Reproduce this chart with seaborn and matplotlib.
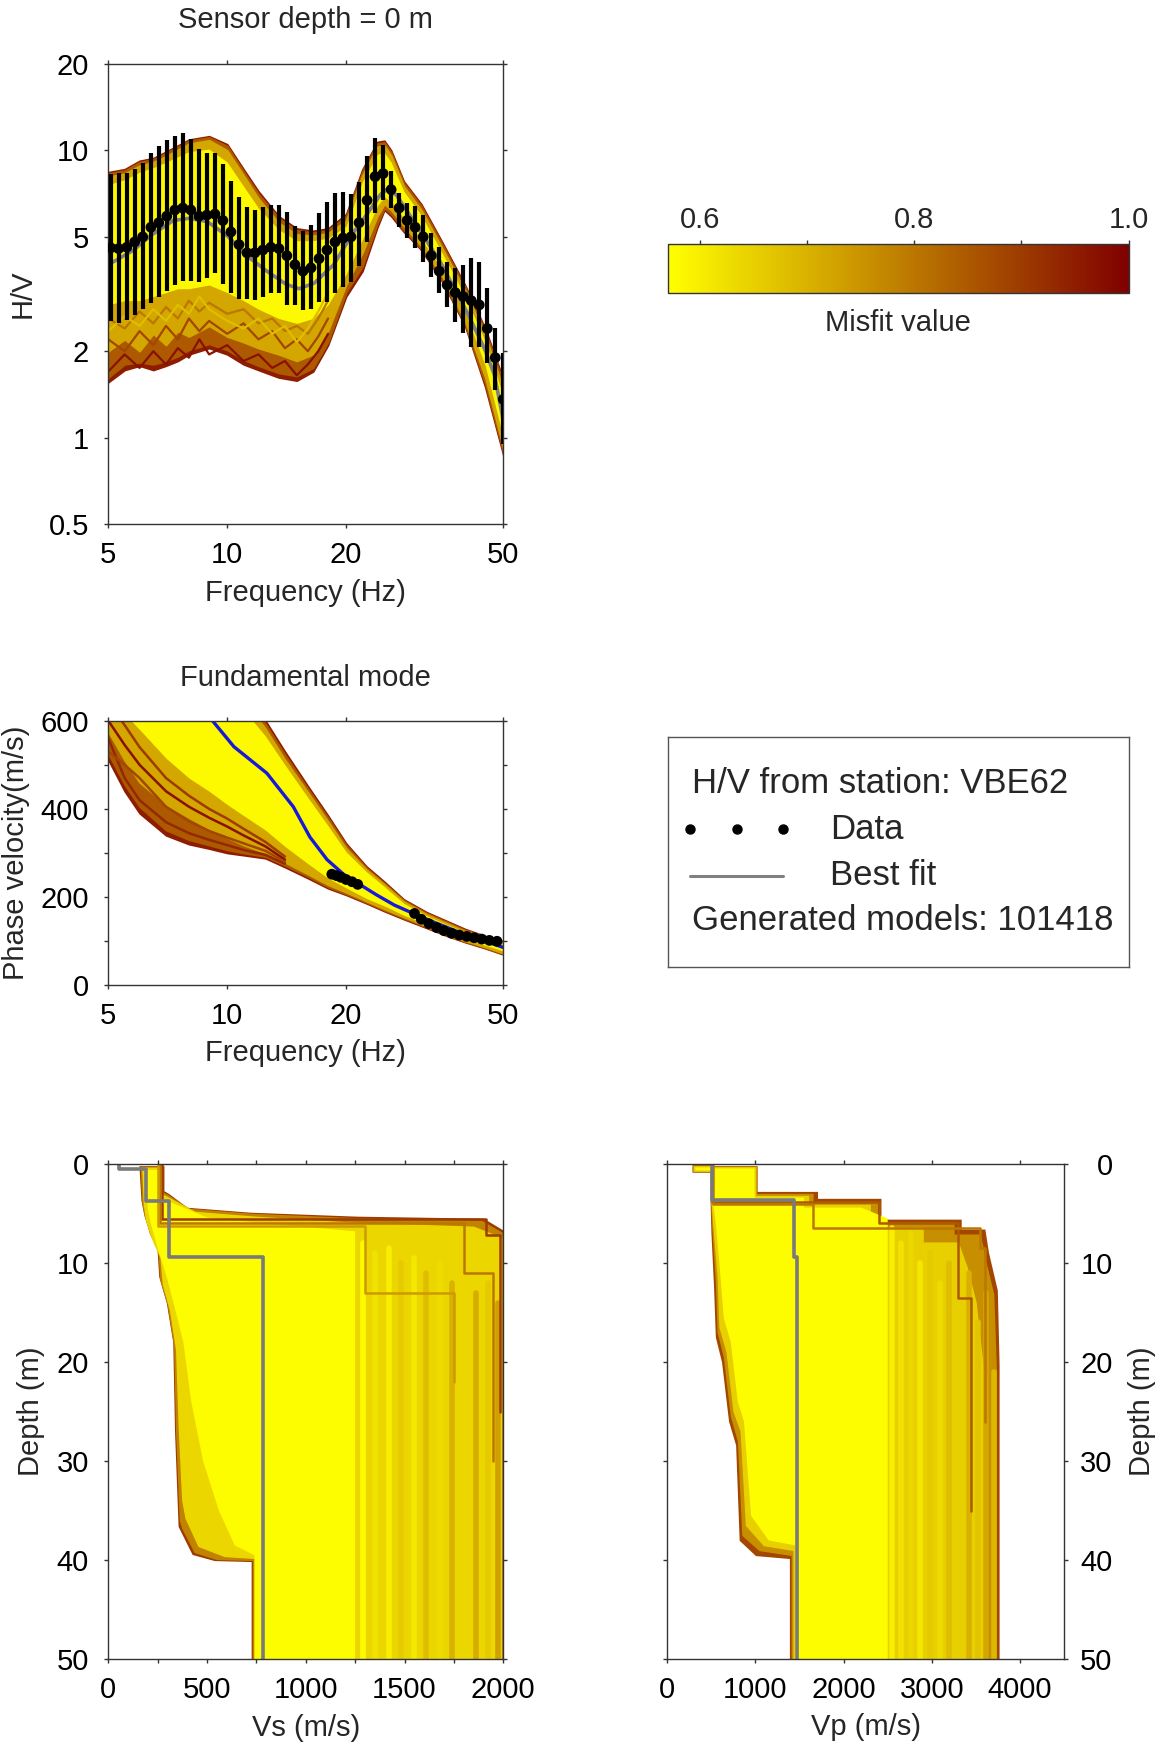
import matplotlib
matplotlib.use("Agg")
import matplotlib.pyplot as plt
import seaborn as sns
from matplotlib.colors import LinearSegmentedColormap, Normalize
from matplotlib.cm import ScalarMappable
from matplotlib.ticker import FixedLocator, NullLocator

# ===================== DATA =====================
# ---- H/V data (station VBE62) ----
hv_freq = [5.07, 5.31, 5.57, 5.83, 6.11, 6.41, 6.71, 7.03, 7.37, 7.72,
           8.09, 8.48, 8.88, 9.31, 9.75, 10.22, 10.71, 11.22, 11.75, 12.31,
           12.90, 13.52, 14.16, 14.84, 15.55, 16.30, 17.08, 17.89, 18.75, 19.64,
           20.58, 21.57, 22.60, 23.68, 24.81, 26.00, 27.24, 28.54, 29.91, 31.34,
           32.84, 34.41, 36.05, 37.78, 39.58, 41.48, 43.46, 45.54, 47.72, 50.0]
hv_data = [4.58, 4.55, 4.6, 4.8, 5.0, 5.4, 5.6, 5.9, 6.2, 6.3,
           6.2, 5.9, 5.95, 6.0, 5.7, 5.2, 4.7, 4.4, 4.4, 4.5,
           4.6, 4.55, 4.3, 4.0, 3.8, 3.9, 4.2, 4.5, 4.8, 4.95,
           5.0, 5.6, 6.7, 8.1, 8.3, 7.3, 6.3, 5.7, 5.4, 5.0,
           4.3, 3.8, 3.4, 3.2, 3.1, 3.0, 2.9, 2.4, 1.9, 1.36]
hv_hi = [8.3, 8.32, 8.32, 8.59, 9.01, 9.76, 10.38, 10.86, 11.22, 11.52,
         10.92, 10.08, 9.81, 9.81, 8.96, 7.84, 6.89, 6.33, 6.20, 6.33,
         6.45, 6.45, 6.09, 5.45, 5.25, 5.50, 6.04, 6.62, 7.08, 7.18,
         7.03, 7.78, 9.55, 11.01, 10.44, 8.49, 7.08, 6.57, 6.40, 5.96,
         5.17, 4.62, 4.08, 3.90, 3.99, 4.21, 4.10, 3.31, 2.40, 1.97]
hv_lo = [2.54, 2.51, 2.57, 2.67, 2.80, 2.94, 3.08, 3.24, 3.40, 3.52,
         3.51, 3.49, 3.60, 3.75, 3.42, 3.18, 3.03, 3.03, 3.01, 3.10,
         3.18, 3.20, 2.90, 2.90, 2.78, 2.80, 2.97, 2.97, 3.18, 3.35,
         3.49, 3.96, 4.81, 6.04, 6.71, 6.31, 5.42, 4.94, 4.56, 4.10,
         3.63, 3.20, 2.86, 2.53, 2.31, 2.07, 2.07, 1.82, 1.47, 0.95]

# ---- H/V model ensemble: nested bands (outer = high misfit) ----
hv_ens_freq = [5, 5.5, 6, 6.5, 7, 7.5, 8, 9, 10, 11, 12, 13.5, 15, 16.5, 18,
               20, 22, 24, 25, 26, 28, 31, 35, 40, 45, 50]
hv_band_misfit = [0.95, 0.85, 0.72, 0.58]
hv_up_A = [8.4, 8.6, 9.2, 9.4, 9.9, 10.4, 10.9, 11.2, 10.5, 8.6, 7.2, 5.9, 5.35, 5.25, 5.35,
           6.0, 8.6, 10.7, 10.8, 10.0, 7.8, 6.5, 4.8, 3.4, 2.4, 1.6]
hv_lo_A = [1.56, 1.72, 1.78, 1.72, 1.78, 1.85, 1.95, 2.05, 1.95, 1.8, 1.72, 1.62, 1.58, 1.7, 2.1,
           3.1, 3.8, 5.4, 6.2, 5.9, 5.2, 4.5, 3.5, 2.45, 1.5, 0.87]
hv_up_B = [8.3, 8.5, 9.1, 9.3, 9.8, 10.3, 10.8, 11.1, 10.35, 8.45, 7.05, 5.8, 5.27, 5.17, 5.27,
           5.9, 8.45, 10.55, 10.65, 9.85, 7.7, 6.4, 4.72, 3.35, 2.36, 1.56]
hv_lo_B = [1.62, 1.8, 1.83, 1.8, 1.85, 1.92, 2.02, 2.12, 2.02, 1.87, 1.78, 1.68, 1.64, 1.75, 2.15,
           3.2, 3.95, 5.55, 6.3, 6.0, 5.28, 4.55, 3.55, 2.48, 1.54, 0.89]
hv_up_C = [8.1, 8.3, 8.85, 9.1, 9.55, 10.05, 10.55, 10.85, 10.0, 8.2, 6.8, 5.6, 5.1, 5.05, 5.15,
           5.7, 8.2, 10.3, 10.4, 9.6, 7.5, 6.2, 4.58, 3.25, 2.28, 1.48]
hv_lo_C = [2.0, 2.2, 2.0, 2.3, 2.1, 2.35, 2.25, 2.45, 2.25, 2.15, 2.05, 1.95, 1.85, 1.95, 2.35,
           3.4, 4.4, 5.9, 6.5, 6.2, 5.45, 4.65, 3.65, 2.55, 1.62, 0.92]
hv_up_D = [7.6, 7.9, 8.4, 8.7, 9.1, 9.5, 9.9, 10.1, 9.1, 7.5, 6.3, 5.3, 4.85, 4.85, 4.95,
           5.45, 7.8, 9.7, 9.8, 9.1, 7.2, 5.95, 4.4, 3.12, 2.17, 1.4]
hv_lo_D = [2.9, 3.0, 3.0, 3.1, 3.2, 3.3, 3.3, 3.4, 3.2, 3.0, 2.8, 2.6, 2.5, 2.6, 2.9,
           3.7, 4.9, 6.4, 6.9, 6.6, 5.8, 4.9, 3.85, 2.75, 1.78, 1.0]
# individual jagged high-misfit H/V curves
hv_jag_freq = [5, 5.5, 6, 6.5, 7, 7.5, 8, 8.5, 9, 10, 11, 12, 13, 14, 15, 16, 17, 18]
hv_jag_misfit = [0.97, 0.88, 0.8, 0.68]
hv_jag1 = [1.7, 1.95, 1.75, 2.0, 1.8, 2.05, 1.9, 2.2, 1.95, 2.1, 1.85, 1.95, 1.75, 1.85, 1.65, 1.8, 2.0, 2.3]
hv_jag2 = [2.2, 2.0, 2.35, 2.1, 2.45, 2.2, 2.6, 2.35, 2.55, 2.3, 2.5, 2.2, 2.35, 2.05, 2.2, 2.0, 2.25, 2.6]
hv_jag3 = [2.6, 2.4, 2.75, 2.5, 2.85, 2.6, 3.0, 2.75, 2.95, 2.7, 2.8, 2.5, 2.6, 2.35, 2.45, 2.3, 2.6, 3.0]
hv_jag4 = [2.35, 2.65, 2.45, 2.8, 2.55, 2.9, 2.7, 3.1, 2.8, 2.55, 2.4, 2.6, 2.3, 2.45, 2.15, 2.4, 2.75, 3.2]
# best-fit H/V
hv_best_freq = [5, 5.8, 6.4, 7.3, 8.0, 8.9, 10.0, 11.2, 12.6, 14.1, 15.2, 16.6, 18.6, 20.8,
                22.6, 24.4, 25.3, 26.8, 30.1, 34.6, 40.4, 45.1, 47.5, 50]
hv_best = [4.0, 4.5, 5.05, 5.7, 5.8, 5.65, 5.05, 4.3, 3.8, 3.42, 3.3, 3.45, 4.0, 5.15,
           6.0, 7.0, 7.3, 7.0, 5.5, 4.1, 2.75, 2.0, 1.65, 1.15]

# ---- Dispersion (fundamental mode) ----
disp_data_f = [18.4, 18.9, 19.4, 20.0, 20.7, 21.4, 29.8, 31.0, 32.4, 33.9, 35.4, 37.0,
               38.7, 40.4, 42.2, 44.1, 46.1, 48.2]
disp_data_v = [252, 249, 245, 240, 235, 229, 163, 150, 140, 131, 124, 118,
               114, 111, 108, 105, 102, 100]
disp_data_err = [9, 9, 9, 9, 9, 9, 6, 6, 6, 5, 5, 5, 5, 5, 5, 5, 5, 5]
disp_best_f = [8.7, 10.4, 12.6, 14.7, 16.2, 17.9, 19.7, 22.0, 23.9, 26.5, 29.6, 33.0,
               36.6, 40.3, 45.0, 50]
disp_best_v = [625, 541, 481, 405, 336, 285, 252, 225, 205, 182, 163, 145,
               129, 114, 100, 86]
disp_ens_f = [5, 5.5, 6, 7, 8, 9, 10, 11, 12.5, 14, 16, 18, 20, 22.5, 25, 28, 32, 36, 40, 45, 50]
disp_band_misfit = [0.95, 0.85, 0.72, 0.58]
disp_up_A = [700, 700, 700, 700, 700, 700, 700, 680, 600, 530, 452, 385, 322, 270, 235, 195, 166, 146, 128, 112, 100]
disp_lo_A = [511, 440, 390, 340, 320, 310, 300, 295, 288, 268, 243, 220, 205, 186, 168, 150, 130, 112, 98, 84, 70]
disp_up_B = [700, 700, 700, 700, 700, 700, 700, 670, 593, 523, 446, 380, 318, 267, 232, 193, 164, 144, 126, 111, 99]
disp_lo_B = [525, 455, 405, 352, 330, 318, 307, 300, 292, 272, 247, 223, 207, 188, 170, 152, 132, 113, 99, 85, 71]
disp_up_C = [700, 700, 700, 700, 700, 700, 700, 650, 582, 512, 438, 372, 311, 263, 229, 190, 161, 141, 123, 108, 96]
disp_lo_C = [575, 510, 460, 410, 380, 355, 335, 318, 300, 279, 252, 228, 211, 191, 173, 155, 134, 115, 101, 87, 73]
disp_up_D = [700, 700, 700, 700, 700, 700, 680, 625, 565, 500, 426, 362, 303, 258, 224, 186, 158, 138, 121, 106, 93]
disp_lo_D = [650, 615, 580, 515, 470, 440, 410, 385, 352, 315, 276, 243, 221, 197, 180, 159, 139, 120, 106, 91, 78]
disp_out_f = [5, 5.5, 6, 7, 8, 9, 10, 11, 12.5, 14]
disp_out_misfit = [0.97, 0.93, 0.9, 0.88]
disp_out1 = [600, 545, 500, 440, 405, 380, 360, 340, 315, 285]
disp_out2 = [560, 470, 420, 370, 345, 330, 318, 307, 296, 276]
disp_out3 = [640, 590, 540, 470, 430, 400, 378, 355, 325, 292]
disp_out4 = [530, 500, 470, 405, 372, 350, 335, 322, 305, 280]

# ---- Vs profiles ----
vs_band_misfit = [0.9, 0.78, 0.64, 0.575]
vs_A_v = [162, 280, 280, 306, 400, 720, 1260, 1900, 2000, 2000, 730, 730, 540, 430, 370, 360, 342, 333, 300, 262, 252, 215, 185, 172, 162]
vs_A_d = [0.3, 0.3, 2.8, 3.1, 4.5, 5.0, 5.4, 5.6, 6.8, 50, 50, 40.1, 40.0, 39.4, 37, 36.6, 27, 18, 14, 11.4, 8.2, 7, 5, 3.7, 0.3]
vs_B_v = [168, 274, 274, 302, 410, 730, 1255, 1890, 1993, 1993, 736, 736, 550, 440, 378, 366, 347, 337, 305, 267, 257, 220, 188, 176, 168]
vs_B_d = [0.35, 0.35, 2.9, 3.2, 4.6, 5.1, 5.55, 5.8, 7.0, 50, 50, 40.0, 39.9, 39.2, 36.8, 36.0, 27, 18.3, 14.3, 11.7, 8.6, 7.3, 5.3, 3.9, 0.35]
vs_C_v = [176, 268, 268, 300, 440, 750, 1240, 1850, 1990, 1990, 745, 745, 590, 460, 395, 378, 360, 347, 316, 280, 268, 230, 196, 184, 176]
vs_C_d = [0.45, 0.45, 3.1, 3.4, 4.9, 5.4, 6.0, 6.4, 7.5, 50, 50, 39.8, 39.6, 38.6, 35.8, 34, 26.5, 18.8, 14.8, 12.2, 9.5, 7.8, 5.8, 4.2, 0.45]
vs_D_v = [190, 260, 260, 320, 500, 800, 1250, 1250, 740, 740, 640, 560, 480, 420, 380, 330, 290, 250, 215, 200, 190]
vs_D_d = [0.6, 0.6, 3.5, 3.9, 5.4, 6.0, 6.8, 50, 50, 39.5, 38.5, 35, 30, 24, 18, 14, 11, 8.5, 6, 4.5, 0.6]
vs_hs_v = [1290, 1350, 1420, 1480, 1550, 1610, 1680, 1740, 1800, 1860, 1920, 1975]
vs_hs_top = [8, 9, 8.5, 10, 9.5, 11, 10, 12, 11, 13, 12, 14]
vs_hs_misfit = [0.58, 0.62, 0.6, 0.66, 0.61, 0.68, 0.63, 0.7, 0.64, 0.71, 0.66, 0.73]
vs_out1_v, vs_out1_bot, vs_out1_m = [270, 1910, 1985], [5.6, 7.2, 25], 0.9
vs_out2_v, vs_out2_bot, vs_out2_m = [262, 1800, 1950], [6.0, 11.0, 30], 0.8
vs_out3_v, vs_out3_bot, vs_out3_m = [250, 1300, 1750], [6.3, 13.0, 22], 0.74
vs_best_v = [54, 189, 306, 784]
vs_best_bot = [0.5, 3.7, 9.4, 50]

# ---- Vp profiles ----
vp_band_misfit = [0.88, 0.76, 0.65, 0.575]
vp_A_v = [295, 504, 504, 1015, 1015, 1700, 1700, 2420, 2420, 3330, 3330, 3600, 3640, 3740, 3760, 3760, 1400, 1400, 1010, 830, 790, 710, 630, 560, 540, 510, 500, 500, 295]
vp_A_d = [0.2, 0.2, 0.3, 0.3, 2.9, 2.9, 3.6, 3.6, 5.7, 5.7, 6.7, 6.7, 9.0, 12.8, 20.3, 50, 50, 39.8, 39.5, 38, 28.4, 26, 20, 17.5, 12.5, 7, 3.7, 0.8, 0.8]
vp_B_v = [300, 504, 504, 1010, 1010, 1650, 1650, 2380, 2380, 3250, 3250, 3550, 3600, 3700, 3730, 3730, 1420, 1420, 1050, 860, 810, 730, 650, 580, 560, 520, 505, 505, 300]
vp_B_d = [0.25, 0.25, 0.35, 0.35, 3.1, 3.1, 3.9, 3.9, 6.0, 6.0, 7.2, 7.2, 9.5, 13.2, 21, 50, 50, 39.5, 39.0, 37.5, 28, 25.5, 19.5, 17, 12, 6.5, 3.7, 0.75, 0.75]
vp_C_v = [310, 504, 504, 1000, 1000, 1600, 1600, 2300, 2300, 2900, 2900, 3300, 3400, 3500, 3600, 3600, 1440, 1440, 1100, 900, 840, 760, 680, 600, 580, 530, 510, 510, 310]
vp_C_d = [0.3, 0.3, 0.4, 0.4, 3.3, 3.3, 4.2, 4.2, 6.5, 6.5, 8, 8, 10.5, 14, 22, 50, 50, 39, 38.5, 36.5, 27, 25, 19, 16.5, 11.5, 6.2, 3.7, 0.7, 0.7]
vp_D_v = [320, 504, 504, 990, 990, 1550, 1550, 2200, 2500, 2500, 1450, 1450, 1150, 950, 870, 800, 720, 640, 600, 550, 515, 515, 320]
vp_D_d = [0.35, 0.35, 0.45, 0.45, 3.4, 3.4, 4.4, 4.4, 5.5, 50, 50, 38.5, 38, 35.5, 26, 24, 18, 15.5, 11, 6, 3.7, 0.65, 0.65]
vp_hs_v = [2550, 2650, 2760, 2870, 2980, 3090, 3200, 3310, 3420, 3520, 3620, 3710]
vp_hs_top = [6.5, 8, 7, 10, 9, 12, 10, 14, 11, 16, 13, 21]
vp_hs_misfit = [0.6, 0.62, 0.64, 0.61, 0.66, 0.63, 0.68, 0.65, 0.7, 0.67, 0.72, 0.69]
vp_out1_v, vp_out1_bot, vp_out1_m = [510, 2400, 3300, 3450], [3.8, 6.0, 13.5, 35], 0.85
vp_out2_v, vp_out2_bot, vp_out2_m = [520, 1650, 3550, 3600], [4.0, 6.5, 8.5, 26], 0.8
vp_best_v = [504, 1440, 1470]
vp_best_bot = [3.6, 9.4, 50]

# ---- labels ----
station = "VBE62"
n_models = 101418
hv_xticks = [5, 10, 20, 50]
hv_yticks = [0.5, 1, 2, 5, 10, 20]
disp_yticks = [0, 200, 400, 600]
cbar_ticks = [0.6, 0.8, 1.0]
misfit_min, misfit_max = 0.57, 1.0

# ===================== STYLE =====================
sns.set_theme(style="white")
plt.rcParams['font.family'] = ['Liberation Sans', 'DejaVu Sans']
FS = 21
LEG_FS = 25
SPINE = '#333333'

cmap = LinearSegmentedColormap.from_list('misfit', ['#ffff00', '#800000'])
norm = Normalize(misfit_min, misfit_max)
mc = lambda m: cmap(norm(m))

W, H = 1161, 1753
fig = plt.figure(figsize=(W / 100, H / 100), dpi=100)
fig.patch.set_facecolor('white')


def ax_at(x0, y0, x1, y1):
    return fig.add_axes([x0 / W, 1 - y1 / H, (x1 - x0) / W, (y1 - y0) / H])


def style(ax):
    for s in ax.spines.values():
        s.set_visible(True)
        s.set_color(SPINE)
        s.set_linewidth(1.0)
    ax.set_facecolor('white')
    ax.grid(False)
    ax.tick_params(which='both', direction='out', length=3, width=1, color=SPINE,
                   top=True, bottom=True, left=True, right=True,
                   labelsize=FS, labelcolor='black')
    ax.tick_params(axis='x', pad=9)
    ax.tick_params(axis='y', pad=11)


def steps(v, bot):
    xs, ys, top = [], [], 0.0
    for vi, bi in zip(v, bot):
        xs += [vi, vi]
        ys += [top, bi]
        top = bi
    return xs, ys


def set_labels(ax, xl, yl, xc, yc):
    ax.set_xlabel(xl, fontsize=FS, va='center')
    ax.set_ylabel(yl, fontsize=FS, va='center')
    ax.xaxis.set_label_coords(0.5, xc)
    ax.yaxis.set_label_coords(yc, 0.5)


def line(ax, x, y, color, lw):
    sns.lineplot(x=x, y=y, color=color, lw=lw, ax=ax, estimator=None, sort=False)


# ===================== H/V panel =====================
ax1 = ax_at(108.3, 63.8, 503.3, 524.3)
ax1.set_xscale('log')
ax1.set_yscale('log')
hv_bands = [(hv_lo_A, hv_up_A), (hv_lo_B, hv_up_B), (hv_lo_C, hv_up_C)]
for (lo, up), m in zip(hv_bands, hv_band_misfit[:3]):
    ax1.fill_between(hv_ens_freq, lo, up, color=mc(m), lw=1.2, edgecolor=mc(m))
for curve, m in zip([hv_jag1, hv_jag2, hv_jag3, hv_jag4], hv_jag_misfit):
    line(ax1, hv_jag_freq, curve, mc(m), 1.6)
ax1.fill_between(hv_ens_freq, hv_lo_D, hv_up_D, color=mc(hv_band_misfit[3]), lw=0)
line(ax1, hv_best_freq, hv_best, '#808080', 2.6)
ax1.vlines(hv_freq, hv_lo, hv_hi, color='black', lw=3.0, zorder=4)
sns.scatterplot(x=hv_freq, y=hv_data, color='black', s=60, edgecolor='none',
                ax=ax1, zorder=5)
ax1.set_xlim(5, 50)
ax1.set_ylim(0.5, 20)
style(ax1)
ax1.xaxis.set_major_locator(FixedLocator(hv_xticks))
ax1.xaxis.set_minor_locator(NullLocator())
ax1.set_xticklabels([f"{t:g}" for t in hv_xticks])
ax1.yaxis.set_major_locator(FixedLocator(hv_yticks))
ax1.yaxis.set_minor_locator(NullLocator())
ax1.set_yticklabels([f"{t:g}" for t in hv_yticks])
set_labels(ax1, 'Frequency (Hz)', 'H/V', -0.1498, -0.2175)
fig.text(305.8 / W, 1 - 20 / H, 'Sensor depth = 0 m', ha='center', va='center', fontsize=FS)

# ===================== Dispersion panel =====================
ax2 = ax_at(108.3, 720.7, 503.3, 985.4)
ax2.set_xscale('log')
disp_bands = [(disp_lo_A, disp_up_A), (disp_lo_B, disp_up_B), (disp_lo_C, disp_up_C)]
for (lo, up), m in zip(disp_bands, disp_band_misfit[:3]):
    ax2.fill_between(disp_ens_f, lo, up, color=mc(m), lw=1.2, edgecolor=mc(m))
for curve, m in zip([disp_out1, disp_out2, disp_out3, disp_out4], disp_out_misfit):
    line(ax2, disp_out_f, curve, mc(m), 1.8)
ax2.fill_between(disp_ens_f, disp_lo_D, disp_up_D, color=mc(disp_band_misfit[3]), lw=0)
line(ax2, disp_best_f, disp_best_v, '#1818d8', 2.4)
ax2.vlines(disp_data_f, [v - e for v, e in zip(disp_data_v, disp_data_err)],
           [v + e for v, e in zip(disp_data_v, disp_data_err)], color='black', lw=2.2, zorder=4)
sns.scatterplot(x=disp_data_f, y=disp_data_v, color='black', s=60, edgecolor='none',
                ax=ax2, zorder=5)
ax2.set_xlim(5, 50)
ax2.set_ylim(0, 600)
style(ax2)
ax2.xaxis.set_major_locator(FixedLocator(hv_xticks))
ax2.xaxis.set_minor_locator(NullLocator())
ax2.set_xticklabels([f"{t:g}" for t in hv_xticks])
ax2.yaxis.set_major_locator(FixedLocator(disp_yticks))
ax2.set_yticklabels([str(t) for t in disp_yticks])
ax2.yaxis.set_minor_locator(FixedLocator([100, 300, 500]))
set_labels(ax2, 'Frequency (Hz)', 'Phase velocity(m/s)', -0.2535, -0.2344)
fig.text(305.8 / W, 1 - 678.3 / H, 'Fundamental mode', ha='center', va='center', fontsize=FS)

# ===================== Colorbar =====================
axc = ax_at(667.8, 244, 1128.6, 293)
sm = ScalarMappable(norm=norm, cmap=cmap)
cb = fig.colorbar(sm, cax=axc, orientation='horizontal')
cb.outline.set_edgecolor(SPINE)
cb.outline.set_linewidth(1.0)
cb.set_ticks(cbar_ticks, labels=[f"{t:.1f}" for t in cbar_ticks])
axc.set_xticks([0.7, 0.9], minor=True)
axc.tick_params(which='both', direction='out', length=3, width=1, color=SPINE,
                top=True, bottom=False, labeltop=True, labelbottom=False,
                labelsize=FS, pad=4)
axc.text(0.5, -30 / 49, 'Misfit value', transform=axc.transAxes, ha='center',
         va='center', fontsize=FS)

# ===================== Legend box =====================
axL = ax_at(667.8, 737, 1128.6, 967)
axL.set_xlim(0, 1)
axL.set_ylim(0, 1)
axL.set_xticks([])
axL.set_yticks([])
axL.set_facecolor('white')
for s in axL.spines.values():
    s.set_visible(True)
    s.set_color('#555555')
    s.set_linewidth(1.0)
axL.text(0.052, 0.80, f'H/V from station: {station}', fontsize=LEG_FS, va='center', ha='left')
axL.plot([0.048, 0.150, 0.251], [0.60, 0.60, 0.60], 'o', color='black', ms=6.5, ls='none')
axL.text(0.352, 0.60, 'Data', fontsize=LEG_FS, va='center', ha='left')
axL.plot([0.048, 0.251], [0.397, 0.397], '-', color='#808080', lw=2.2)
axL.text(0.352, 0.397, 'Best fit', fontsize=LEG_FS, va='center', ha='left')
axL.text(0.053, 0.204, f'Generated models: {n_models}', fontsize=LEG_FS, va='center', ha='left')

# ===================== Vs panel =====================
ax3 = ax_at(108.3, 1164, 503.3, 1659.3)
for (vv, dd), m in zip([(vs_A_v, vs_A_d), (vs_B_v, vs_B_d), (vs_C_v, vs_C_d)], vs_band_misfit[:3]):
    ax3.fill(vv, dd, color=mc(m), lw=1.2, edgecolor=mc(m))
for v, top, m in zip(vs_hs_v, vs_hs_top, vs_hs_misfit):
    line(ax3, [v, v], [top, 50], mc(m), 4)
for v, b, m in [(vs_out1_v, vs_out1_bot, vs_out1_m), (vs_out2_v, vs_out2_bot, vs_out2_m),
                (vs_out3_v, vs_out3_bot, vs_out3_m)]:
    xs, ys = steps(v, b)
    line(ax3, xs, ys, mc(m), 1.8)
ax3.fill(vs_D_v, vs_D_d, color=mc(vs_band_misfit[3]), lw=0)
xs, ys = steps(vs_best_v, vs_best_bot)
line(ax3, xs, ys, '#7a7a7a', 2.6)
ax3.set_xlim(0, 2000)
ax3.set_ylim(50, 0)
style(ax3)
ax3.xaxis.set_major_locator(FixedLocator([0, 500, 1000, 1500, 2000]))
ax3.set_xticklabels(['0', '500', '1000', '1500', '2000'])
ax3.xaxis.set_minor_locator(FixedLocator([250, 750, 1250, 1750]))
ax3.yaxis.set_major_locator(FixedLocator([0, 10, 20, 30, 40, 50]))
ax3.set_yticklabels(['0', '10', '20', '30', '40', '50'])
ax3.yaxis.set_minor_locator(NullLocator())
set_labels(ax3, 'Vs (m/s)', 'Depth (m)', -0.1387, -0.1957)

# ===================== Vp panel =====================
ax4 = ax_at(667.3, 1164, 1064, 1659.3)
for (vv, dd), m in zip([(vp_A_v, vp_A_d), (vp_B_v, vp_B_d), (vp_C_v, vp_C_d)], vp_band_misfit[:3]):
    ax4.fill(vv, dd, color=mc(m), lw=1.2, edgecolor=mc(m))
for v, top, m in zip(vp_hs_v, vp_hs_top, vp_hs_misfit):
    line(ax4, [v, v], [top, 50], mc(m), 4)
for v, b, m in [(vp_out1_v, vp_out1_bot, vp_out1_m), (vp_out2_v, vp_out2_bot, vp_out2_m)]:
    xs, ys = steps(v, b)
    line(ax4, xs, ys, mc(m), 1.8)
ax4.fill(vp_D_v, vp_D_d, color=mc(vp_band_misfit[3]), lw=0)
xs, ys = steps(vp_best_v, vp_best_bot)
line(ax4, xs, ys, '#7a7a7a', 2.6)
ax4.set_xlim(0, 4500)
ax4.set_ylim(50, 0)
style(ax4)
ax4.xaxis.set_major_locator(FixedLocator([0, 1000, 2000, 3000, 4000]))
ax4.set_xticklabels(['0', '1000', '2000', '3000', '4000'])
ax4.xaxis.set_minor_locator(NullLocator())
ax4.yaxis.set_major_locator(FixedLocator([0, 10, 20, 30, 40, 50]))
ax4.yaxis.set_minor_locator(NullLocator())
ax4.tick_params(axis='y', labelleft=False, labelright=True, pad=32)
ax4.set_yticklabels(['0', '10', '20', '30', '40', '50'], ha='right')
ax4.yaxis.set_label_position('right')
set_labels(ax4, 'Vp (m/s)', 'Depth (m)', -0.1361, 1.1966)
ax4.yaxis.label.set_rotation(90)

fig.savefig('out.png', dpi=100, facecolor='white')
